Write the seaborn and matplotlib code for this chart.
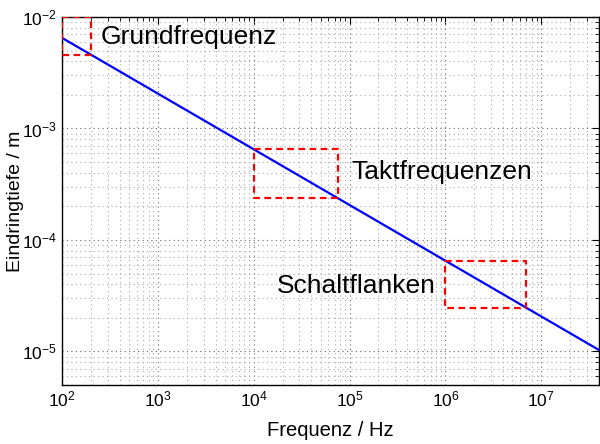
import numpy as np
import pandas as pd
import matplotlib
matplotlib.use('Agg')
import matplotlib.pyplot as plt
import seaborn as sns

# skin depth curve (straight line in log-log)
freq = [1e2, 4e7]
depth = [6.5e-3, 1.03e-5]

# highlighted frequency ranges: f_low, f_high, depth_low, depth_high
box_names = ['Grundfrequenz', 'Taktfrequenzen', 'Schaltflanken']
box_f_lo = [1e2, 1e4, 1e6]
box_f_hi = [2e2, 7.5e4, 7e6]
box_d_lo = [4.6e-3, 2.4e-4, 2.45e-5]
box_d_hi = [1e-2, 6.5e-4, 6.5e-5]

# label anchors
label_x = [255, 1.05e5, 8e5]
label_y = [6.6e-3, 4.1e-4, 3.9e-5]
label_ha = ['left', 'left', 'right']

sns.set_style('white')
plt.rcParams['font.family'] = ['Liberation Sans', 'DejaVu Sans']
plt.rcParams['mathtext.fontset'] = 'custom'
plt.rcParams['mathtext.rm'] = 'Liberation Sans'
for k in ['text.color', 'axes.labelcolor', 'xtick.color', 'ytick.color']:
    plt.rcParams[k] = 'black'

fig = plt.figure(figsize=(6, 4.44), dpi=100)
ax = fig.add_axes([62 / 600, 1 - 385 / 444, 537 / 600, 368 / 444])

line_df = pd.DataFrame({'f': freq, 'd': depth})
sns.lineplot(data=line_df, x='f', y='d', ax=ax, color='#0000ff', lw=1.6, zorder=3)

for i in range(len(box_names)):
    rect = pd.DataFrame({
        'f': [box_f_lo[i], box_f_hi[i], box_f_hi[i], box_f_lo[i], box_f_lo[i]],
        'd': [box_d_hi[i], box_d_hi[i], box_d_lo[i], box_d_lo[i], box_d_hi[i]],
    })
    sns.lineplot(data=rect, x='f', y='d', ax=ax, sort=False, estimator=None,
                 color='#ff0000', lw=1.6, linestyle=(0, (3, 2)), zorder=4)
    ax.text(label_x[i], label_y[i], box_names[i], fontsize=19,
            ha=label_ha[i], va='center')

ax.set_xscale('log')
ax.set_yscale('log')
ax.set_xlim(1e2, 4e7)
ax.set_ylim(5e-6, 1e-2)

ax.grid(True, which='major', linestyle=(0, (1, 3)), color='#666666', lw=0.8)
ax.grid(True, which='minor', linestyle=(0, (1, 3)), color='#aaaaaa', lw=0.8)
ax.tick_params(which='both', direction='in', top=True, right=True, labelsize=12.5)
ax.tick_params(which='major', length=5)
ax.tick_params(which='minor', length=3)
for s in ax.spines.values():
    s.set_color('black')
    s.set_linewidth(1.0)

ax.set_xlabel('Frequenz / Hz', fontsize=14.5, labelpad=8)
ax.set_ylabel('Eindringtiefe / m', fontsize=14)
ax.yaxis.set_label_coords(-0.07, 0.5)

fig.savefig('out.png', dpi=100)
